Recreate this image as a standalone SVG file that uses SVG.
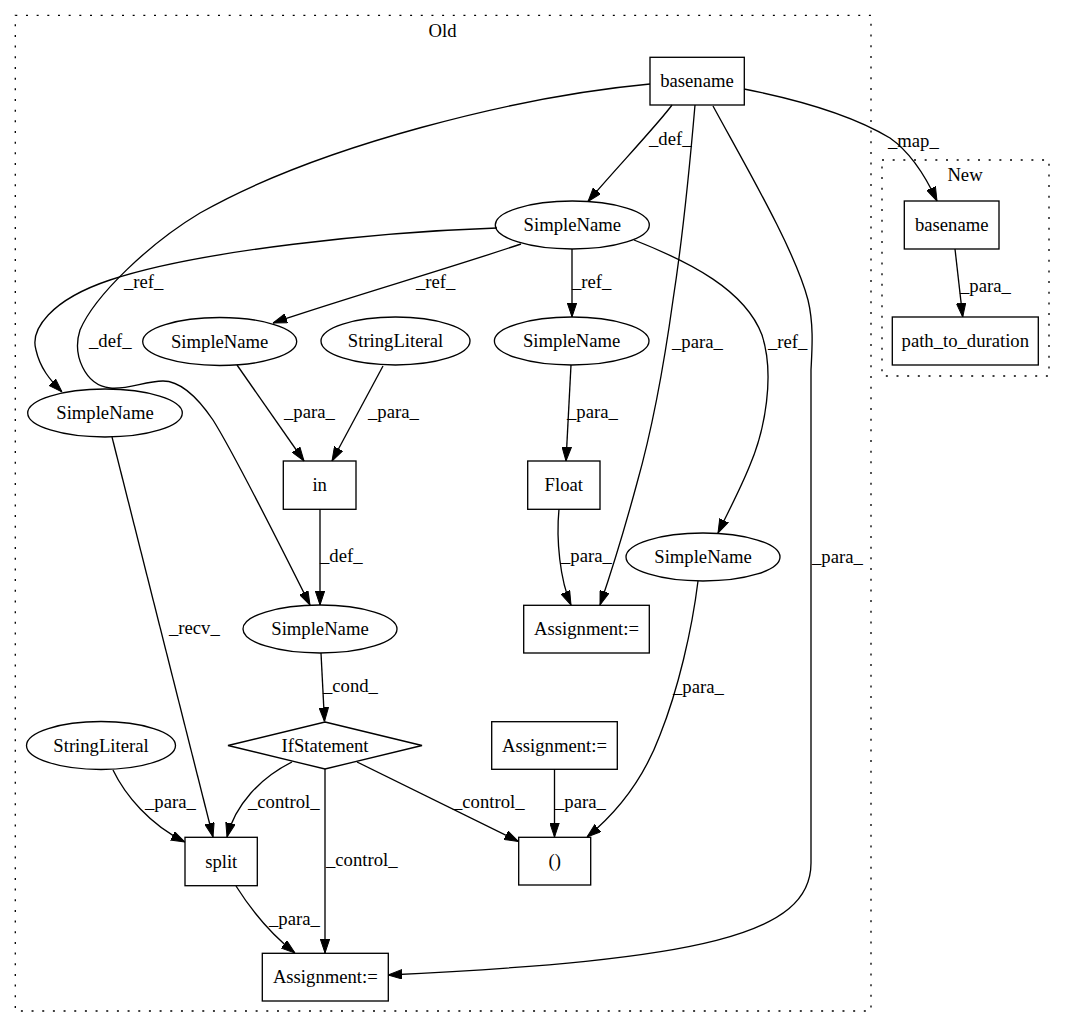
<svg xmlns="http://www.w3.org/2000/svg" width="1065" height="1028" viewBox="0 0 1065 1028">
<style>
text{font-family:"Liberation Serif","Times New Roman",serif;font-size:18.67px;fill:#000}
.n{text-anchor:middle}
.shape{fill:none;stroke:#000;stroke-width:1.33}
.cl{fill:none;stroke:#000;stroke-width:1.33;stroke-dasharray:2,8.67}
.e{fill:none;stroke:#000;stroke-width:1.33;marker-end:url(#arr)}
</style>
<defs>
<marker id="arr" viewBox="0 0 14 10" refX="14" refY="5" markerWidth="14" markerHeight="10" markerUnits="userSpaceOnUse" orient="auto">
<path d="M0,0.3 L14,5 L0,9.7 z" fill="#000" stroke="#000" stroke-width="1"/>
</marker>
</defs>
<rect width="1065" height="1028" fill="#fff"/>
<g id="cluster_old">
<rect class="cl" x="15.3" y="15.3" width="855.7" height="995.7"/>
<text class="n" x="442.5" y="37">Old</text>
</g>
<g id="cluster_new">
<rect class="cl" x="882" y="160" width="167" height="216"/>
<text class="n" x="965" y="181">New</text>
</g>
<g id="connectors">
<path class="e" d="M672,105 C660,122 610,175 588,201.5"/>
<path class="e" d="M695,105 C689,175 680,255 673,300 C664,365 652,430 637,483 C627,520 612,570 600,605"/>
<path class="e" d="M713,106 C745,165 795,250 808,300 C814,325 812,350 811,370 L811,863 C811,935 700,960 388,975"/>
<path class="e" d="M744,89 C810,102 860,120 890,138 C910,152 925,175 937,201"/>
<path class="e" d="M650,84 C520,96 320,145 200,213 C150,243 95,295 80,330 C72,355 85,385 110,388 C128,390 145,381 163,381 C180,381 198,398 213,420 C235,455 275,535 310,605"/>
<path class="e" d="M497,228 C380,232 200,250 110,280 C50,300 30,330 36,350 C40,368 50,380 62,392"/>
<path class="e" d="M521,244 C450,268 330,303 273,323"/>
<path class="e" d="M572,249 L572,317"/>
<path class="e" d="M634,240 C690,262 745,290 762,335 C775,375 765,430 750,465 C740,490 728,512 718,533"/>
<path class="e" d="M237,365 L304,461"/>
<path class="e" d="M383,366 L332,461"/>
<path class="e" d="M571,365 L566,461"/>
<path class="e" d="M320,509 L320,605"/>
<path class="e" d="M559,509 C556,540 560,580 571,605"/>
<path class="e" d="M112,437 L213,837"/>
<path class="e" d="M321,653 L324.5,721.5"/>
<path class="e" d="M698,581 C692,630 678,690 660,735 C645,775 620,810 587,837"/>
<path class="e" d="M292,762 C260,778 235,805 227,837"/>
<path class="e" d="M325,769 L325,953"/>
<path class="e" d="M357,762 L518.5,841.5"/>
<path class="e" d="M113,770 C125,795 150,825 185,842"/>
<path class="e" d="M554.5,769.3 L554.5,837"/>
<path class="e" d="M236,886 C248,905 268,932 295,953"/>
<path class="e" d="M955,249 L962.7,317"/>
<text x="649" y="145">_def_</text>
<text x="888" y="147">_map_</text>
<text x="960" y="292">_para_</text>
<text x="672" y="348">_para_</text>
<text x="768" y="348">_ref_</text>
<text x="812" y="563">_para_</text>
<text x="124" y="288">_ref_</text>
<text x="416" y="288">_ref_</text>
<text x="572" y="288">_ref_</text>
<text x="89" y="347">_def_</text>
<text x="284" y="418">_para_</text>
<text x="368" y="418">_para_</text>
<text x="567" y="418">_para_</text>
<text x="320" y="562">_def_</text>
<text x="561" y="562">_para_</text>
<text x="169" y="634">_recv_</text>
<text x="673" y="693">_para_</text>
<text x="323" y="692">_cond_</text>
<text x="145" y="808">_para_</text>
<text x="248" y="808">_control_</text>
<text x="453" y="808">_control_</text>
<text x="555" y="808">_para_</text>
<text x="326" y="866">_control_</text>
<text x="269" y="925">_para_</text>
</g>
<g id="n_basename_old"><rect class="shape" x="650" y="57.3" width="94.3" height="47.7"/><text class="n" x="697" y="87">basename</text></g>
<g id="n_simplename_top"><ellipse class="shape" cx="572.3" cy="225" rx="77" ry="24"/><text class="n" x="572.3" y="231">SimpleName</text></g>
<g id="n_simplename_a"><ellipse class="shape" cx="219.7" cy="341.5" rx="77" ry="24"/><text class="n" x="219.7" y="347.5">SimpleName</text></g>
<g id="n_stringliteral_top"><ellipse class="shape" cx="395.5" cy="341" rx="74.5" ry="24"/><text class="n" x="395.5" y="347">StringLiteral</text></g>
<g id="n_simplename_b"><ellipse class="shape" cx="571.7" cy="341" rx="77.3" ry="24"/><text class="n" x="571.7" y="347">SimpleName</text></g>
<g id="n_simplename_left"><ellipse class="shape" cx="105" cy="413" rx="77.3" ry="24"/><text class="n" x="105" y="419">SimpleName</text></g>
<g id="n_in"><rect class="shape" x="283.3" y="461" width="72.7" height="48.3"/><text class="n" x="319.7" y="491">in</text></g>
<g id="n_float"><rect class="shape" x="527.7" y="461" width="72.3" height="48.3"/><text class="n" x="563.8" y="491">Float</text></g>
<g id="n_simplename_right"><ellipse class="shape" cx="703" cy="557" rx="77" ry="24"/><text class="n" x="703" y="563">SimpleName</text></g>
<g id="n_simplename_cond"><ellipse class="shape" cx="320" cy="629" rx="77" ry="24"/><text class="n" x="320" y="635">SimpleName</text></g>
<g id="n_assign_float"><rect class="shape" x="523.7" y="605.3" width="125.6" height="47.7"/><text class="n" x="586.5" y="635">Assignment:=</text></g>
<g id="n_ifstatement"><polygon class="shape" points="325,722 422,745.5 325,769 228,745.5"/><text class="n" x="325" y="751.5">IfStatement</text></g>
<g id="n_stringliteral_bottom"><ellipse class="shape" cx="101" cy="745.5" rx="74.5" ry="24"/><text class="n" x="101" y="751.5">StringLiteral</text></g>
<g id="n_assign_mid"><rect class="shape" x="491.7" y="721.7" width="125.6" height="47.6"/><text class="n" x="554.5" y="751.5">Assignment:=</text></g>
<g id="n_split"><rect class="shape" x="185" y="837.3" width="72.3" height="48.4"/><text class="n" x="221.2" y="867.5">split</text></g>
<g id="n_paren"><rect class="shape" x="518.7" y="837.3" width="72" height="47.7"/><text class="n" x="554.7" y="867">()</text></g>
<g id="n_assign_bottom"><rect class="shape" x="262.3" y="953.3" width="126" height="47.7"/><text class="n" x="325.3" y="983">Assignment:=</text></g>
<g id="n_basename_new"><rect class="shape" x="904.3" y="201" width="94.7" height="48"/><text class="n" x="951.7" y="231">basename</text></g>
<g id="n_path_to_duration"><rect class="shape" x="892.3" y="317" width="146" height="48"/><text class="n" x="965.3" y="347">path_to_duration</text></g>
</svg>
